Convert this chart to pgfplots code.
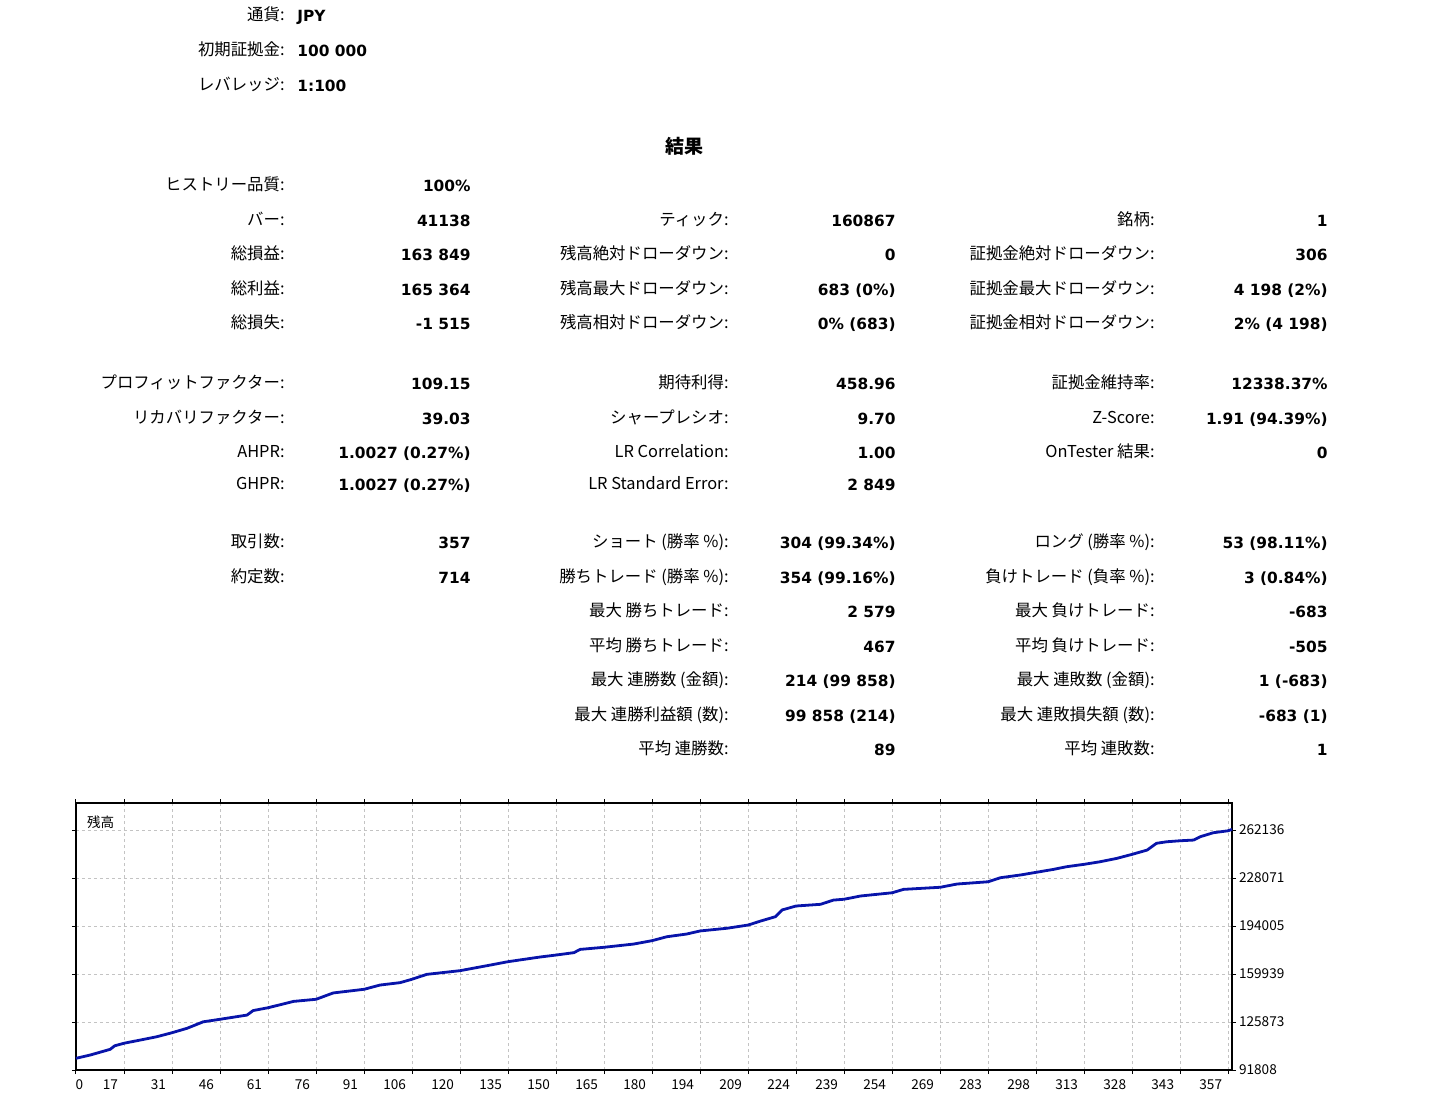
\documentclass[border=0pt]{standalone}
\usepackage{pgfplots}
\pgfplotsset{compat=1.18}
\usepackage{fontspec}
\setmainfont{Noto Sans CJK JP}
\newfontfamily\valfont{DejaVu Sans}

\definecolor{balblue}{RGB}{8,20,170}
\definecolor{gridgray}{RGB}{195,195,195}

\newcommand\lf{\fontsize{8.2}{10}\selectfont}
\newcommand\vf{\valfont\bfseries\fontsize{7.7}{9}\selectfont}

% one line of the report: y, label1, value1, label2, value2, label3, value3
\newcommand\statrow[7]{%
  \node[anchor=base east,font=\lf] at (285,#1+5) {#2};
  \node[anchor=base east,font=\vf] at (471,#1+6) {#3};
  \node[anchor=base east,font=\lf] at (729,#1+5) {#4};
  \node[anchor=base east,font=\vf] at (896,#1+6) {#5};
  \node[anchor=base east,font=\lf] at (1155,#1+5) {#6};
  \node[anchor=base east,font=\vf] at (1328,#1+6) {#7};
}

\begin{document}
\begin{tikzpicture}

\begin{scope}[x=0.5pt,y=-0.5pt,every node/.style={inner sep=0pt}]
\useasboundingbox (0,0) rectangle (1448,1120);

\node[anchor=base east,font=\lf] at (285,20) {通貨:};
\node[anchor=base west,font=\vf] at (297,21) {JPY};
\node[anchor=base east,font=\lf] at (285,55) {初期証拠金:};
\node[anchor=base west,font=\vf] at (297,56) {100 000};
\node[anchor=base east,font=\lf] at (285,90) {レバレッジ:};
\node[anchor=base west,font=\vf] at (297,91) {1:100};

\node[anchor=base,font=\bfseries\fontsize{9.5}{11}\selectfont] at (684,153) {結果};

\statrow{185}{ヒストリー品質:}{100\%}{}{}{}{}
\statrow{220}{バー:}{41138}{ティック:}{160867}{銘柄:}{1}
\statrow{254}{総損益:}{163 849}{残高絶対ドローダウン:}{0}{証拠金絶対ドローダウン:}{306}
\statrow{289}{総利益:}{165 364}{残高最大ドローダウン:}{683 (0\%)}{証拠金最大ドローダウン:}{4 198 (2\%)}
\statrow{323}{総損失:}{-1 515}{残高相対ドローダウン:}{0\% (683)}{証拠金相対ドローダウン:}{2\% (4 198)}
\statrow{383}{プロフィットファクター:}{109.15}{期待利得:}{458.96}{証拠金維持率:}{12338.37\%}
\statrow{418}{リカバリファクター:}{39.03}{シャープレシオ:}{9.70}{Z-Score:}{1.91 (94.39\%)}
\statrow{452}{AHPR:}{1.0027 (0.27\%)}{LR Correlation:}{1.00}{OnTester 結果:}{0}
\statrow{484}{GHPR:}{1.0027 (0.27\%)}{LR Standard Error:}{2 849}{}{}
\statrow{542}{取引数:}{357}{ショート (勝率 \%):}{304 (99.34\%)}{ロング (勝率 \%):}{53 (98.11\%)}
\statrow{577}{約定数:}{714}{勝ちトレード (勝率 \%):}{354 (99.16\%)}{負けトレード (負率 \%):}{3 (0.84\%)}
\statrow{611}{}{}{最大 勝ちトレード:}{2 579}{最大 負けトレード:}{-683}
\statrow{646}{}{}{平均 勝ちトレード:}{467}{平均 負けトレード:}{-505}
\statrow{680}{}{}{最大 連勝数 (金額):}{214 (99 858)}{最大 連敗数 (金額):}{1 (-683)}
\statrow{715}{}{}{最大 連勝利益額 (数):}{99 858 (214)}{最大 連敗損失額 (数):}{-683 (1)}
\statrow{749}{}{}{平均 連勝数:}{89}{平均 連敗数:}{1}
\end{scope}

\begin{axis}[
  at={(38pt,-401.5pt)}, anchor=north west,
  width=578pt, height=133.5pt, scale only axis,
  xmin=0, xmax=358.2,
  ymin=91808, ymax=281298,
  scaled y ticks=false,
  xtick={0,14.875,29.75,44.625,59.5,74.375,89.25,104.125,119,133.875,148.75,163.625,178.5,193.375,208.25,223.125,238,252.875,267.75,282.625,297.5,312.375,327.25,342.125,357},
  xticklabels={{\makebox[0pt][l]{\hspace{2.8pt}0}},17,31,46,61,76,91,106,120,135,150,165,180,194,209,224,239,254,269,283,298,313,328,343,357},
  ytick={91808,125873,159939,194005,228071,262136},
  yticklabels={91808,125873,159939,194005,228071,262136},
  yticklabel pos=right,
  grid=major,
  grid style={gridgray, dash pattern=on 1.6pt off 1.4pt, line width=0.5pt},
  tick align=outside,
  major tick length=2pt,
  tick style={black, line width=0.5pt},
  axis line style={black, line width=0.75pt},
  ticklabel style={font=\fontsize{6.8}{8}\selectfont},
  x tick label style={anchor=north east, xshift=0.5pt, yshift=0.8pt},
  y tick label style={anchor=west, xshift=-2pt},
  clip=false,
]
\addplot[balblue, line width=1.4pt] coordinates {
(0,100100)(4.5,102500)(10.6,106500)(12,109000)(14.9,110800)(25,115400)
(29.8,118300)(34.4,121400)(39.4,126000)(44.6,127800)(53,130800)(54.9,134000)
(59.5,136000)(67.4,140500)(74.4,142000)(79.7,146500)(89.3,149100)(94.2,152100)
(100.4,153800)(104.1,156200)(108.7,159700)(119,162300)(128.4,166300)(133.9,168700)
(143.8,172000)(148.75,173400)(154.3,175100)(156.2,177400)(163.6,178900)(172.8,181200)
(178.5,183600)(183.1,186400)(189.2,188300)(193.4,190500)(201.7,192400)(208.3,194700)
(212.1,197500)(216.7,200600)(218.8,205400)(223.1,208200)(230.7,209400)(234.7,212400)
(238,213000)(243.1,215300)(252.9,217600)(256.4,220000)(267.8,221500)(273,223800)
(282.6,225400)(286.5,228300)(292.6,230200)(297.5,232100)(302.9,234200)(307,236100)
(312.4,237800)(317.3,239600)(322.5,242000)(327.3,244900)(331.9,247900)(334.8,252700)
(338,253800)(342.1,254500)(346.3,255000)(348.4,257400)(352.4,260200)(357,261600)
(358.2,262600)
};
\node[anchor=north west, xshift=2pt, yshift=-3pt, font=\fontsize{6.8}{8}\selectfont] at (rel axis cs:0,1) {残高};
\end{axis}

\end{tikzpicture}
\end{document}
